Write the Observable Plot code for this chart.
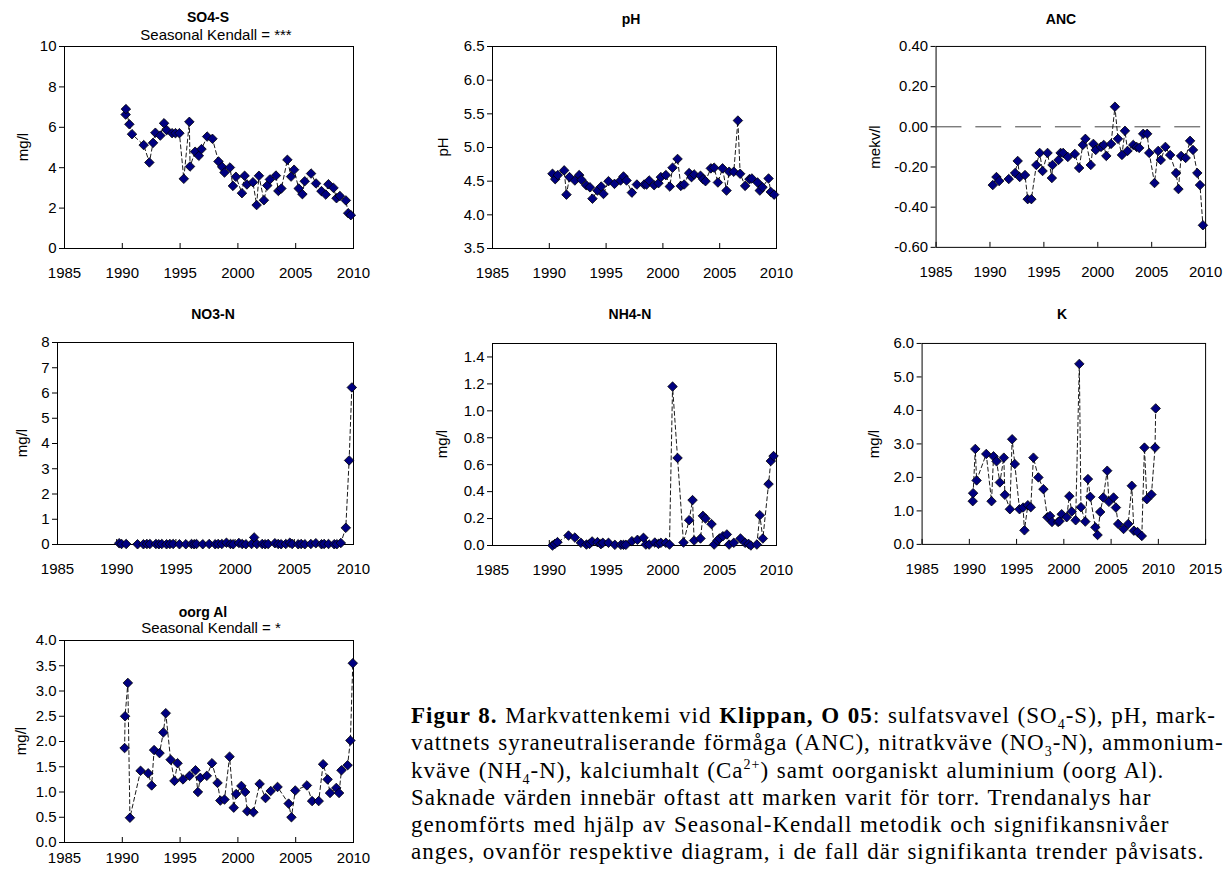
<!DOCTYPE html>
<html><head><meta charset="utf-8">
<script src="https://cdn.jsdelivr.net/npm/d3@7"></script>
<script src="https://cdn.jsdelivr.net/npm/@observablehq/plot@0.6"></script>
<style>
html,body{margin:0;padding:0;background:#fff;}
body{width:1225px;height:872px;overflow:hidden;position:relative;font-family:"Liberation Sans",Arial,sans-serif;color:#000;}
.panel{position:absolute;}
.title{position:absolute;font-weight:bold;font-size:14px;transform:translate(-50%,-50%);white-space:nowrap;}
.sub{position:absolute;font-size:15px;transform:translate(-50%,-50%);white-space:nowrap;}
.ylab{position:absolute;font-size:15px;transform:translate(-50%,-50%) rotate(-90deg);white-space:nowrap;}
#caption{position:absolute;left:411px;top:702px;font-family:"Liberation Serif",serif;font-size:23px;line-height:27.3px;letter-spacing:1px;word-spacing:1px;white-space:nowrap;}
#caption sub,#caption sup{font-size:14px;line-height:0;}
</style></head><body>
<div id="root"></div>
<div id="caption">
<b>Figur 8.</b> Markvattenkemi vid <b>Klippan, O 05</b>: sulfatsvavel (SO<sub>4</sub>-S), pH, mark-<br>
vattnets syraneutraliserande förmåga (ANC), nitratkväve (NO<sub>3</sub>-N), ammonium-<br>
kväve (NH<sub>4</sub>-N), kalciumhalt (Ca<sup>2+</sup>) samt oorganiskt aluminium (oorg Al).<br>
Saknade värden innebär oftast att marken varit för torr. Trendanalys har<br>
genomförts med hjälp av Seasonal-Kendall metodik och signifikansnivåer<br>
anges, ovanför respektive diagram, i de fall där signifikanta trender påvisats.
</div>
<script>
// ---------- data ----------
const xTicks2010 = [1985, 1990, 1995, 2000, 2005, 2010];
const xTicks2015 = [1985, 1990, 1995, 2000, 2005, 2010, 2015];

const so4Ticks = [0, 2, 4, 6, 8, 10];
const so4Year = [1990.29,1990.31,1990.61,1990.84,1991.85,1992.34,1992.66,1992.86,1993.29,1993.61,1993.84,1994.31,1994.60,1994.94,1995.32,1995.80,1995.86,1996.30,1996.62,1996.85,1997.34,1997.80,1998.32,1998.64,1998.84,1999.31,1999.57,1999.83,2000.35,2000.58,2000.78,2001.30,2001.62,2001.82,2002.25,2002.54,2002.77,2003.29,2003.50,2003.76,2004.28,2004.60,2004.86,2005.26,2005.58,2005.78,2006.33,2006.76,2007.23,2007.60,2007.83,2008.27,2008.53,2008.82,2009.34,2009.54,2009.77];
const so4Value = [6.63,6.90,6.15,5.66,5.12,4.26,5.23,5.73,5.59,6.20,5.86,5.71,5.71,5.71,3.45,6.27,4.06,4.79,4.59,4.92,5.54,5.43,4.31,4.04,3.76,4.01,3.10,3.55,2.74,3.60,3.17,3.28,2.15,3.60,2.39,3.12,3.42,3.61,2.85,2.97,4.39,3.56,3.90,2.97,2.69,3.33,3.71,3.22,2.84,2.67,3.18,3.00,2.49,2.60,2.38,1.75,1.65];

const phTicks = [3.5, 4.0, 4.5, 5.0, 5.5, 6.0, 6.5];
const phYear = [1990.28,1990.52,1990.75,1991.31,1991.51,1991.78,1992.25,1992.63,1992.83,1993.25,1993.57,1993.80,1994.24,1994.57,1994.77,1995.21,1995.74,1996.27,1996.53,1996.80,1997.27,1997.71,1998.35,1998.56,1998.79,1999.23,1999.61,1999.82,2000.26,2000.61,2000.85,2001.29,2001.58,2001.87,2002.31,2002.52,2002.75,2003.31,2003.54,2003.75,2004.22,2004.51,2004.84,2005.25,2005.60,2005.83,2006.24,2006.60,2006.80,2007.24,2007.62,2007.83,2008.33,2008.53,2008.77,2009.30,2009.50,2009.79];
const phValue = [4.61,4.53,4.59,4.66,4.30,4.56,4.51,4.59,4.52,4.44,4.41,4.24,4.36,4.42,4.31,4.50,4.46,4.51,4.57,4.51,4.33,4.45,4.45,4.45,4.51,4.44,4.47,4.56,4.59,4.42,4.70,4.83,4.43,4.45,4.62,4.56,4.60,4.58,4.53,4.50,4.69,4.70,4.48,4.69,4.36,4.64,4.64,5.40,4.61,4.43,4.53,4.54,4.48,4.36,4.41,4.54,4.34,4.30];

const ancTicks = [-0.6, -0.4, -0.2, 0, 0.2, 0.4];
const ancYear = [1990.26,1990.60,1990.85,1991.74,1992.33,1992.57,1992.76,1993.25,1993.50,1993.84,1994.30,1994.61,1994.88,1995.34,1995.74,1995.80,1996.36,1996.55,1996.79,1997.22,1997.87,1998.27,1998.61,1998.85,1999.35,1999.59,1999.81,2000.30,2000.55,2000.79,2001.23,2001.59,2001.87,2002.24,2002.52,2002.76,2003.29,2003.60,2003.84,2004.21,2004.58,2004.77,2005.26,2005.60,2005.84,2006.27,2006.71,2007.26,2007.48,2007.73,2008.15,2008.56,2008.83,2009.23,2009.48,2009.75];
const ancValue = [-0.29,-0.25,-0.27,-0.26,-0.23,-0.17,-0.25,-0.24,-0.36,-0.36,-0.19,-0.13,-0.22,-0.13,-0.255,-0.19,-0.165,-0.13,-0.13,-0.15,-0.135,-0.205,-0.09,-0.06,-0.19,-0.085,-0.115,-0.10,-0.09,-0.145,-0.085,0.10,-0.06,-0.14,-0.02,-0.12,-0.09,-0.10,-0.105,-0.035,-0.035,-0.13,-0.28,-0.12,-0.165,-0.10,-0.14,-0.23,-0.31,-0.145,-0.155,-0.07,-0.115,-0.23,-0.29,-0.49];
const ancRefValue = [0];
const ancRefFrom = 1985;
const ancRefTo = 2010.5;

const no3Ticks = [0, 1, 2, 3, 4, 5, 6, 7, 8];
const no3Year = [1990.21,1990.41,1990.80,1991.76,1992.26,1992.55,1992.80,1993.31,1993.56,1993.81,1994.21,1994.49,1994.77,1995.30,1995.84,1996.32,1996.54,1996.74,1997.27,1997.81,1998.32,1998.57,1998.88,1999.27,1999.61,1999.84,2000.32,2000.60,2000.91,2001.39,2001.61,2001.84,2002.29,2002.54,2002.79,2003.36,2003.64,2003.89,2004.28,2004.62,2004.82,2005.33,2005.58,2005.89,2006.40,2006.82,2007.30,2007.52,2007.89,2008.37,2008.59,2008.93,2009.35,2009.63,2009.86];
const no3Value = [0.05,0.02,0.02,0.01,0.01,0.02,0.02,0.02,0.01,0.02,0.01,0.02,0.02,0.01,0.01,0.02,0.01,0.02,0.01,0.02,0.01,0.02,0.02,0.07,0.02,0.01,0.06,0.02,0.01,0.02,0.28,0.02,0.02,0.01,0.02,0.05,0.02,0.01,0.02,0.07,0.02,0.01,0.02,0.01,0.02,0.05,0.01,0.02,0.02,0.01,0.01,0.06,0.66,3.33,6.22];

const nh4Ticks = [0, 0.2, 0.4, 0.6, 0.8, 1.0, 1.2, 1.4];
const nh4Max = 1.5;
const nh4Year = [1990.28,1990.49,1990.72,1991.69,1992.25,1992.78,1993.27,1993.54,1993.77,1994.24,1994.54,1994.71,1995.21,1995.77,1996.30,1996.53,1996.74,1997.27,1997.76,1998.29,1998.50,1998.79,1999.29,1999.61,1999.82,2000.26,2000.58,2000.85,2001.29,2001.81,2002.31,2002.61,2002.75,2003.31,2003.52,2003.75,2004.28,2004.51,2004.81,2004.98,2005.28,2005.63,2005.83,2006.24,2006.83,2007.24,2007.54,2007.74,2008.27,2008.53,2008.80,2009.30,2009.50,2009.74];
const nh4Value = [0.0,0.012,0.025,0.074,0.059,0.02,0.007,0.012,0.03,0.025,0.01,0.02,0.02,0.005,0.005,0.005,0.005,0.032,0.042,0.057,0.007,0.007,0.022,0.012,0.02,0.02,0.007,1.18,0.65,0.022,0.188,0.337,0.037,0.052,0.22,0.20,0.159,0.007,0.037,0.052,0.069,0.082,0.007,0.02,0.052,0.02,0.012,0.0,0.007,0.225,0.052,0.456,0.627,0.664];

const kTicks = [0, 1, 2, 3, 4, 5, 6];
const kYear = [1990.36,1990.40,1990.63,1990.77,1991.79,1992.35,1992.56,1992.88,1993.23,1993.65,1993.76,1994.29,1994.53,1994.81,1995.31,1995.69,1995.83,1996.19,1996.50,1996.78,1997.31,1997.84,1998.26,1998.54,1998.75,1999.39,1999.53,1999.77,2000.30,2000.58,2000.83,2001.25,2001.64,2001.81,2002.27,2002.55,2002.80,2003.33,2003.57,2003.85,2004.17,2004.59,2004.77,2005.26,2005.51,2005.75,2006.32,2006.81,2007.19,2007.41,2007.79,2008.25,2008.53,2008.78,2009.27,2009.65,2009.72];
const kValue = [1.29,1.53,2.85,1.91,2.70,1.29,2.63,2.48,1.85,2.59,1.48,1.05,3.14,2.40,1.05,1.10,0.42,1.17,1.11,2.59,2.00,1.65,0.81,0.85,0.67,0.67,0.69,0.90,0.81,1.44,0.98,0.72,5.39,1.11,0.68,1.95,1.42,0.51,0.28,0.97,1.40,2.20,1.27,1.40,1.10,0.61,0.46,0.61,1.75,0.41,0.37,0.25,2.89,1.35,1.49,2.89,4.06];

const alTicks = [0, 0.5, 1.0, 1.5, 2.0, 2.5, 3.0, 3.5, 4.0];
const alYear = [1990.20,1990.24,1990.48,1990.66,1991.58,1992.24,1992.54,1992.75,1993.22,1993.55,1993.76,1994.18,1994.51,1994.78,1995.25,1995.82,1996.33,1996.54,1996.75,1997.31,1997.76,1998.24,1998.48,1998.84,1999.28,1999.64,1999.85,2000.30,2000.63,2000.81,2001.34,2001.88,2002.39,2002.84,2003.43,2004.39,2004.63,2004.96,2005.97,2006.42,2006.99,2007.37,2007.76,2007.97,2008.51,2008.75,2008.96,2009.49,2009.73,2009.94];
const alValue = [1.87,2.50,3.16,0.49,1.42,1.37,1.13,1.83,1.77,2.18,2.56,1.64,1.22,1.57,1.25,1.32,1.43,1.00,1.28,1.32,1.57,1.18,0.83,0.85,1.70,0.69,0.96,1.12,1.00,0.62,0.60,1.16,0.88,1.02,1.10,0.77,0.50,1.03,1.13,0.82,0.82,1.55,1.25,0.98,1.08,0.98,1.43,1.53,2.02,3.55];

// ---------- panels ----------
const f0 = d => d.toFixed(0), f1 = d => d.toFixed(1), f2 = d => d.toFixed(2);
const panels = [
  {title:"SO4-S", sub:"Seasonal Kendall = ***", label:"mg/l", years:so4Year, values:so4Value, yTicks:so4Ticks, fmt:f0, xTicks:xTicks2010,
   box:{l:64,r:353,t:46,b:248}, tx:208, ty:17, sy:34, lx:22, pad:24},
  {title:"pH", label:"pH", years:phYear, values:phValue, yTicks:phTicks, fmt:f1, xTicks:xTicks2010,
   box:{l:492,r:776,t:46,b:248}, tx:631, ty:19, lx:442, pad:24},
  {title:"ANC", label:"mekv/l", years:ancYear, values:ancValue, yTicks:ancTicks, fmt:f2, xTicks:xTicks2010, ref:true,
   box:{l:936,r:1207,t:46,b:248}, tx:1061, ty:19, lx:874, pad:24},
  {title:"NO3-N", label:"mg/l", years:no3Year, values:no3Value, yTicks:no3Ticks, fmt:f0, xTicks:xTicks2010,
   box:{l:57,r:353,t:342,b:544}, tx:213, ty:314, lx:21, pad:24},
  {title:"NH4-N", label:"mg/l", years:nh4Year, values:nh4Value, yTicks:nh4Ticks, yMax:nh4Max, fmt:f1, xTicks:xTicks2010,
   box:{l:492,r:776,t:343,b:545}, tx:630, ty:314, lx:441, pad:24},
  {title:"K", label:"mg/l", years:kYear, values:kValue, yTicks:kTicks, fmt:f1, xTicks:xTicks2015,
   box:{l:922,r:1207,t:343,b:545}, tx:1062, ty:314, lx:873, pad:24},
  {title:"oorg Al", sub:"Seasonal Kendall = *", label:"mg/l", years:alYear, values:alValue, yTicks:alTicks, fmt:f1, xTicks:xTicks2010,
   box:{l:64,r:353,t:640,b:842}, tx:203, ty:612, sy:627, lx:20, pad:15}
];

const root = document.getElementById("root");
const ML = 80, MR = 20, MT = 10, MB = 40;

function addDiv(cls, text, x, y) {
  const d = document.createElement("div");
  d.className = cls; d.textContent = text;
  d.style.left = x + "px"; d.style.top = y + "px";
  root.appendChild(d);
}

for (const p of panels) {
  const b = p.box;
  const data = p.years.map((year, i) => ({year, value: p.values[i]}));
  const xDom = [p.xTicks[0], p.xTicks[p.xTicks.length - 1]];
  const yDom = [p.yTicks[0], p.yMax ?? p.yTicks[p.yTicks.length - 1]];
  const marks = [
    Plot.frame({stroke: "#000", strokeWidth: 1}),
    Plot.axisY({ticks: p.yTicks, tickFormat: p.fmt, tickSize: 5, tickPadding: 3, label: null}),
    Plot.axisX({ticks: p.xTicks, tickFormat: d => String(d), tickSize: -5, tickPadding: p.pad, label: null})
  ];
  if (p.ref) {
    marks.push(Plot.ruleY(ancRefValue.map(v => ({v, x1: ancRefFrom, x2: ancRefTo})),
      {y: "v", x1: "x1", x2: "x2", stroke: "#444", strokeWidth: 1, strokeDasharray: "26,14"}));
  }
  marks.push(
    Plot.line(data, {x: "year", y: "value", stroke: "#000", strokeWidth: 0.9, strokeDasharray: "4,3"}),
    Plot.dot(data, {x: "year", y: "value", symbol: "diamond2", r: 4.3, fill: "#000080", stroke: "#000", strokeWidth: 0.8})
  );
  const svg = Plot.plot({
    width: (b.r - b.l) + ML + MR,
    height: (b.b - b.t) + MT + MB,
    marginLeft: ML, marginRight: MR, marginTop: MT, marginBottom: MB,
    style: {fontFamily: "'Liberation Sans', Arial, sans-serif", fontSize: "15px", color: "#000", background: "transparent", overflow: "visible"},
    x: {domain: xDom},
    y: {domain: yDom},
    marks
  });
  const wrap = document.createElement("div");
  wrap.className = "panel";
  wrap.style.left = (b.l - ML) + "px";
  wrap.style.top = (b.t - MT) + "px";
  wrap.appendChild(svg);
  root.appendChild(wrap);
  addDiv("title", p.title, p.tx, p.ty);
  if (p.sub) addDiv("sub", p.sub, p.tx + 8, p.sy);
  addDiv("ylab", p.label, p.lx, (b.t + b.b) / 2);
}
</script>
</body></html>
